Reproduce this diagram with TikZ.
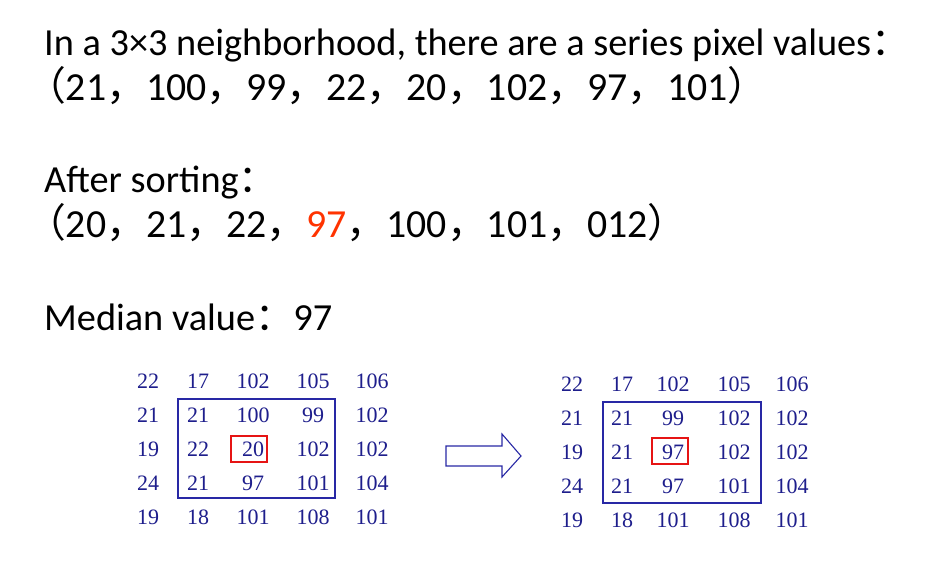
\documentclass[tikz,border=0pt]{standalone}
\usepackage{fontspec}
\setmainfont{Carlito}
\newfontfamily\cjk{Noto Sans CJK SC}
\newfontfamily\gridfont{Liberation Serif}
\definecolor{navy}{RGB}{30,30,140}
\definecolor{boxblue}{RGB}{40,40,165}
\definecolor{hired}{RGB}{255,51,0}
\definecolor{boxred}{RGB}{230,20,20}
\newcommand{\fc}{{\cjk ，}}
\begin{document}
\begin{tikzpicture}[x=1pt,y=-1pt,
  txt/.style={anchor=base west,inner sep=0pt,font=\fontsize{38.3}{40}\selectfont},
  seq/.style={anchor=base west,inner sep=0pt,font=\fontsize{39.8}{40}\selectfont},
  num/.style={inner sep=0pt,text=navy,font=\gridfont\fontsize{22}{22}\selectfont},
  bluebox/.style={draw=boxblue,line width=1.1pt},
  redbox/.style={draw=boxred,line width=1.4pt},
  bigarrow/.style={draw=boxblue,line width=1.1pt,fill=white,line join=miter}]
\useasboundingbox (0,0) rectangle (928,562);
\fill[white] (0,0) rectangle (928,562);
% text lines
\node[txt] (t1) at (44,55) {In a 3×3 neighborhood, there are a series pixel values{\cjk ：}};
\node[seq] (t2) at (26,100) {{\cjk （}21\fc 100\fc 99\fc 22\fc 20\fc 102\fc 97\fc 101{\cjk ）}};
\node[txt] (t3) at (44,192) {After sorting{\cjk ：}};
\node[seq] (t4) at (26,237) {{\cjk （}20\fc 21\fc 22\fc \textcolor{hired}{97}\fc 100\fc 101\fc 012{\cjk ）}};
\node[txt] (t5) at (44,330) {Median value{\cjk ：}97};
% left grid
\foreach \row [count=\r] in {{22,17,102,105,106},{21,21,100,99,102},{19,22,20,102,102},{24,21,97,101,104},{19,18,101,108,101}}{
  \foreach \v [count=\c] in \row {
    \pgfmathsetmacro\xx{{148,198,253,313,372}[\c-1]}
    \pgfmathsetmacro\yy{{381,415,449,483,517}[\r-1]}
    \node[num] (L\r\c) at (\xx,\yy) {\v};
  }
}
% right grid
\foreach \row [count=\r] in {{22,17,102,105,106},{21,21,99,102,102},{19,21,97,102,102},{24,21,97,101,104},{19,18,101,108,101}}{
  \foreach \v [count=\c] in \row {
    \pgfmathsetmacro\xx{{572,622,673,734,792}[\c-1]}
    \pgfmathsetmacro\yy{{384,418,452,486,520}[\r-1]}
    \node[num] (R\r\c) at (\xx,\yy) {\v};
  }
}
% boxes
\draw[bluebox] (178,399) rectangle (335,498);
\draw[redbox] (231,436) rectangle (267,462);
\draw[bluebox] (603,402) rectangle (761,503);
\draw[redbox] (652,438) rectangle (688,464);
% arrow
\draw[bigarrow] (446,446) -- (502,446) -- (502,434) -- (521,456) -- (502,477) -- (502,466) -- (446,466) -- cycle;
\end{tikzpicture}
\end{document}
